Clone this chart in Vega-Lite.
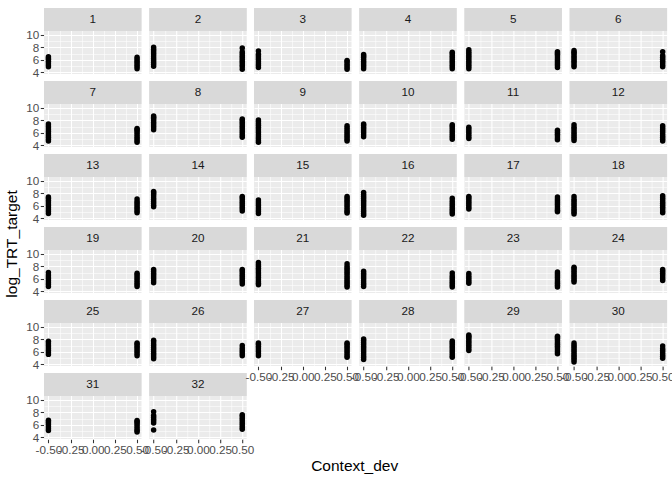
{
  "$schema": "https://vega.github.io/schema/vega-lite/v6.json",
  "padding": {"left": 5, "top": 7, "right": 5, "bottom": 5},
  "title": {"text": "Context_dev", "orient": "bottom", "anchor": "middle", "dx": 15, "fontSize": 15.5, "fontWeight": "normal", "color": "#000000", "font": "Liberation Sans", "offset": 3},
  "config": {
    "font": "Liberation Sans",
    "view": {"fill": "#EBEBEB", "stroke": null},
    "header": {"labels": false, "labelExpr": "''", "labelFontSize": 0.01, "labelPadding": 0},
    "headerFacet": {"labels": false, "labelExpr": "''", "labelFontSize": 0.01, "labelPadding": 0},
    "axis": {
      "domain": false,
      "gridColor": "#FFFFFF",
      "labelColor": "#4D4D4D",
      "labelFontSize": 11.7,
      "labelFont": "Liberation Sans",
      "labelOverlap": false,
      "labelFlush": false,
      "tickColor": "#333333",
      "tickSize": 3.7,
      "tickWidth": 1.07,
      "labelPadding": 1.5
    }
  },
  "data": {
    "values": [
      {"panel": 1, "Context_dev": -0.5, "log_TRT_target": [4.9,5.2,5.5,5.8,6.1,6.3,6.5]},
      {"panel": 1, "Context_dev": 0.5, "log_TRT_target": [4.6,4.9,5.2,5.5,5.8,6.1,6.4]},
      {"panel": 2, "Context_dev": -0.5, "log_TRT_target": [5.0,5.3,5.6,5.9,6.2,6.5,6.8,7.1,7.4,7.7,8.0]},
      {"panel": 2, "Context_dev": 0.5, "log_TRT_target": [4.5,4.9,5.2,5.5,5.8,6.1,6.4,6.7,7.0,7.3,7.9]},
      {"panel": 3, "Context_dev": -0.5, "log_TRT_target": [4.8,5.1,5.4,5.7,6.0,6.3,6.6,6.9,7.4]},
      {"panel": 3, "Context_dev": 0.5, "log_TRT_target": [4.5,4.8,5.1,5.4,5.7,5.9]},
      {"panel": 4, "Context_dev": -0.5, "log_TRT_target": [4.6,4.9,5.2,5.5,5.8,6.1,6.4,6.6,6.85]},
      {"panel": 4, "Context_dev": 0.5, "log_TRT_target": [4.6,4.9,5.2,5.5,5.8,6.1,6.4,6.7,7.0,7.2]},
      {"panel": 5, "Context_dev": -0.5, "log_TRT_target": [4.6,4.9,5.2,5.5,5.8,6.1,6.4,6.7,7.0,7.3,7.6]},
      {"panel": 5, "Context_dev": 0.5, "log_TRT_target": [4.8,5.1,5.4,5.7,6.0,6.3,6.6,6.9,7.1,7.3]},
      {"panel": 6, "Context_dev": -0.5, "log_TRT_target": [4.9,5.2,5.5,5.8,6.1,6.4,6.7,7.0,7.2,7.5]},
      {"panel": 6, "Context_dev": 0.5, "log_TRT_target": [4.9,5.2,5.5,5.8,6.1,6.4,6.7,7.3]},
      {"panel": 7, "Context_dev": -0.5, "log_TRT_target": [4.7,5.0,5.3,5.6,5.9,6.2,6.5,6.8,7.1,7.4]},
      {"panel": 7, "Context_dev": 0.5, "log_TRT_target": [4.5,4.8,5.1,5.4,5.7,6.0,6.3,6.5,6.7]},
      {"panel": 8, "Context_dev": -0.5, "log_TRT_target": [6.5,6.8,7.1,7.4,7.7,8.0,8.3,8.5,8.7]},
      {"panel": 8, "Context_dev": 0.5, "log_TRT_target": [5.3,5.6,5.9,6.2,6.5,6.8,7.1,7.4,7.7,8.0,8.2]},
      {"panel": 9, "Context_dev": -0.5, "log_TRT_target": [4.5,4.8,5.1,5.4,5.7,6.0,6.3,6.6,6.9,7.2,7.5,7.8,8.05]},
      {"panel": 9, "Context_dev": 0.5, "log_TRT_target": [4.7,5.0,5.3,5.6,5.9,6.2,6.5,6.8,7.15]},
      {"panel": 10, "Context_dev": -0.5, "log_TRT_target": [5.4,5.7,6.0,6.3,6.6,6.9,7.2,7.4]},
      {"panel": 10, "Context_dev": 0.5, "log_TRT_target": [5.0,5.3,5.6,5.9,6.2,6.5,6.8,7.1,7.3]},
      {"panel": 11, "Context_dev": -0.5, "log_TRT_target": [5.1,5.4,5.7,6.0,6.3,6.6,6.9]},
      {"panel": 11, "Context_dev": 0.5, "log_TRT_target": [4.9,5.2,5.5,5.8,6.1,6.4]},
      {"panel": 12, "Context_dev": -0.5, "log_TRT_target": [4.8,5.1,5.4,5.7,6.0,6.3,6.6,6.9,7.3]},
      {"panel": 12, "Context_dev": 0.5, "log_TRT_target": [4.7,5.0,5.3,5.6,5.9,6.2,6.5,6.8,7.15]},
      {"panel": 13, "Context_dev": -0.5, "log_TRT_target": [4.8,5.1,5.4,5.7,6.0,6.3,6.6,6.9,7.2,7.4]},
      {"panel": 13, "Context_dev": 0.5, "log_TRT_target": [4.9,5.2,5.5,5.8,6.1,6.4,6.7,7.1]},
      {"panel": 14, "Context_dev": -0.5, "log_TRT_target": [5.85,6.1,6.4,6.7,7.0,7.3,7.6,7.9,8.1,8.3]},
      {"panel": 14, "Context_dev": 0.5, "log_TRT_target": [5.2,5.5,5.8,6.1,6.4,6.7,7.0,7.3,7.5]},
      {"panel": 15, "Context_dev": -0.5, "log_TRT_target": [4.8,5.1,5.4,5.7,6.0,6.3,6.6,6.95]},
      {"panel": 15, "Context_dev": 0.5, "log_TRT_target": [4.85,5.1,5.4,5.7,6.0,6.3,6.6,6.9,7.2,7.5]},
      {"panel": 16, "Context_dev": -0.5, "log_TRT_target": [4.5,4.8,5.1,5.4,5.7,6.0,6.3,6.6,6.9,7.2,7.5,7.8,8.15]},
      {"panel": 16, "Context_dev": 0.5, "log_TRT_target": [4.7,5.0,5.3,5.6,5.9,6.2,6.5,6.8,7.2]},
      {"panel": 17, "Context_dev": -0.5, "log_TRT_target": [5.5,5.8,6.1,6.4,6.7,7.0,7.3,7.5]},
      {"panel": 17, "Context_dev": 0.5, "log_TRT_target": [5.05,5.3,5.6,5.9,6.2,6.5,6.8,7.1,7.4]},
      {"panel": 18, "Context_dev": -0.5, "log_TRT_target": [4.7,5.0,5.3,5.6,5.9,6.2,6.5,6.8,7.1,7.5]},
      {"panel": 18, "Context_dev": 0.5, "log_TRT_target": [4.9,5.2,5.5,5.8,6.1,6.4,6.7,7.0,7.3,7.6]},
      {"panel": 19, "Context_dev": -0.5, "log_TRT_target": [4.8,5.1,5.4,5.7,6.0,6.3,6.6,7.0]},
      {"panel": 19, "Context_dev": 0.5, "log_TRT_target": [4.8,5.1,5.4,5.7,6.0,6.3,6.6,6.9]},
      {"panel": 20, "Context_dev": -0.5, "log_TRT_target": [5.4,5.7,6.0,6.3,6.6,6.9,7.2,7.5]},
      {"panel": 20, "Context_dev": 0.5, "log_TRT_target": [5.2,5.5,5.8,6.1,6.4,6.7,7.0,7.3,7.5]},
      {"panel": 21, "Context_dev": -0.5, "log_TRT_target": [5.05,5.3,5.6,5.9,6.2,6.5,6.8,7.1,7.4,7.7,8.0,8.3,8.6]},
      {"panel": 21, "Context_dev": 0.5, "log_TRT_target": [4.7,5.0,5.3,5.6,5.9,6.2,6.5,6.8,7.1,7.4,7.7,8.0,8.4]},
      {"panel": 22, "Context_dev": -0.5, "log_TRT_target": [4.8,5.1,5.4,5.7,6.0,6.3,6.6,6.9,7.2]},
      {"panel": 22, "Context_dev": 0.5, "log_TRT_target": [4.7,5.0,5.3,5.6,5.9,6.2,6.5,6.95]},
      {"panel": 23, "Context_dev": -0.5, "log_TRT_target": [5.3,5.6,5.9,6.2,6.5,6.85]},
      {"panel": 23, "Context_dev": 0.5, "log_TRT_target": [4.7,5.0,5.3,5.6,5.9,6.2,6.5,6.8,7.1]},
      {"panel": 24, "Context_dev": -0.5, "log_TRT_target": [5.5,5.8,6.1,6.4,6.7,7.0,7.3,7.6,7.85]},
      {"panel": 24, "Context_dev": 0.5, "log_TRT_target": [5.75,6.0,6.3,6.6,6.9,7.2,7.5]},
      {"panel": 25, "Context_dev": -0.5, "log_TRT_target": [5.6,5.9,6.2,6.5,6.8,7.1,7.4,7.7]},
      {"panel": 25, "Context_dev": 0.5, "log_TRT_target": [5.4,5.7,6.0,6.3,6.6,6.9,7.2,7.4]},
      {"panel": 26, "Context_dev": -0.5, "log_TRT_target": [4.9,5.2,5.5,5.8,6.1,6.4,6.7,7.0,7.3,7.6,7.85]},
      {"panel": 26, "Context_dev": 0.5, "log_TRT_target": [5.4,5.7,6.0,6.3,6.6,7.0]},
      {"panel": 27, "Context_dev": -0.5, "log_TRT_target": [5.4,5.7,6.0,6.3,6.6,6.9,7.2,7.4]},
      {"panel": 27, "Context_dev": 0.5, "log_TRT_target": [5.15,5.4,5.7,6.0,6.3,6.6,6.9,7.2,7.4]},
      {"panel": 28, "Context_dev": -0.5, "log_TRT_target": [4.8,5.1,5.4,5.7,6.0,6.3,6.6,6.9,7.2,7.5,7.8,8.05]},
      {"panel": 28, "Context_dev": 0.5, "log_TRT_target": [5.15,5.4,5.7,6.0,6.3,6.6,6.9,7.2,7.5,7.75]},
      {"panel": 29, "Context_dev": -0.5, "log_TRT_target": [6.2,6.5,6.8,7.1,7.4,7.7,8.0,8.3,8.5,8.7]},
      {"panel": 29, "Context_dev": 0.5, "log_TRT_target": [5.7,6.0,6.3,6.6,6.9,7.2,7.5,7.8,8.1,8.3,8.5]},
      {"panel": 30, "Context_dev": -0.5, "log_TRT_target": [4.4,4.7,5.0,5.3,5.6,5.9,6.2,6.5,6.8,7.1,7.4]},
      {"panel": 30, "Context_dev": 0.5, "log_TRT_target": [5.0,5.3,5.6,5.9,6.2,6.5,6.95]},
      {"panel": 31, "Context_dev": -0.5, "log_TRT_target": [5.1,5.4,5.7,6.0,6.3,6.5,6.75]},
      {"panel": 31, "Context_dev": 0.5, "log_TRT_target": [4.85,5.1,5.4,5.7,6.0,6.3,6.5,6.7]},
      {"panel": 32, "Context_dev": -0.5, "log_TRT_target": [5.2,6.3,6.6,6.9,7.2,7.5,8.1]},
      {"panel": 32, "Context_dev": 0.5, "log_TRT_target": [5.3,5.6,5.9,6.2,6.5,6.8,7.1,7.4,7.6]}
    ]
  },
  "transform": [{"flatten": ["log_TRT_target"]}],
  "spacing": -16.5,
  "hconcat": [
    {
      "transform": [{"filter": "(datum.panel - 1) % 6 < 2"}],
      "title": {"text": "log_TRT_target", "orient": "left", "anchor": "middle", "dx": -12, "fontSize": 15.5, "fontWeight": "normal", "color": "#000000", "font": "Liberation Sans", "offset": 5},
      "facet": {"field": "panel", "type": "ordinal", "title": null},
      "columns": 2,
      "spacing": {"row": 6, "column": 7.2},
      "spec": {
        "width": 97.5,
        "height": 66,
        "resolve": {"axis": {"x": "independent", "y": "independent"}},
        "layer": [
          {
            "mark": {"type": "point", "filled": true, "size": 30, "color": "#000000", "opacity": 1},
            "encoding": {
              "x": {
                "field": "Context_dev", "type": "quantitative",
                "scale": {"domain": [-0.55, 0.55], "nice": false, "zero": false},
                "axis": {"orient": "bottom", "title": null, "labelOverlap": false, "values": [-0.5, -0.25, 0, 0.25, 0.5],
                  "labelExpr": "replace(format(datum.value, '.2f'), '\u2212', '-')", "gridWidth": 1.1}
              },
              "y": {
                "field": "log_TRT_target", "type": "quantitative",
                "scale": {"domain": [3.75, 14.26], "nice": false, "zero": false},
                "axis": {"orient": "left", "title": null, "labelOverlap": false, "values": [4, 6, 8, 10], "gridWidth": 1.1}
              }
            }
          },
          {
            "transform": [{"aggregate": [{"op": "count", "as": "n"}], "groupby": ["panel"]}],
            "mark": {"type": "rect", "color": "#D9D9D9"},
            "encoding": {
              "x": {"datum": -0.55, "type": "quantitative",
                "axis": {"orient": "bottom", "title": null, "values": [-0.375, -0.125, 0.125, 0.375], "labels": false, "ticks": false, "domain": false, "grid": true, "gridWidth": 0.55}},
              "x2": {"datum": 0.55},
              "y": {"datum": 10.6, "type": "quantitative",
                "axis": {"orient": "left", "title": null, "values": [5, 7, 9], "labels": false, "ticks": false, "domain": false, "grid": true, "gridWidth": 0.55}},
              "y2": {"datum": 14.26}
            }
          },
          {
            "transform": [{"aggregate": [{"op": "count", "as": "n"}], "groupby": ["panel"]}],
            "mark": {"type": "text", "fontSize": 11.7, "color": "#1A1A1A", "font": "Liberation Sans"},
            "encoding": {
              "x": {"datum": 0, "type": "quantitative", "axis": null},
              "y": {"datum": 12.43, "type": "quantitative", "axis": null},
              "text": {"field": "panel", "type": "nominal"}
            }
          }
        ]
      }
    },
    {
      "transform": [{"filter": "(datum.panel - 1) % 6 >= 2"}],
      "facet": {"field": "panel", "type": "ordinal", "title": null},
      "columns": 4,
      "spacing": {"row": 6, "column": 7.2},
      "spec": {
        "width": 97.5,
        "height": 66,
        "resolve": {"axis": {"x": "independent", "y": "independent"}},
        "layer": [
          {
            "mark": {"type": "point", "filled": true, "size": 30, "color": "#000000", "opacity": 1},
            "encoding": {
              "x": {
                "field": "Context_dev", "type": "quantitative",
                "scale": {"domain": [-0.55, 0.55], "nice": false, "zero": false},
                "axis": {"orient": "bottom", "title": null, "labelOverlap": false, "values": [-0.5, -0.25, 0, 0.25, 0.5],
                  "labelExpr": "replace(format(datum.value, '.2f'), '\u2212', '-')", "gridWidth": 1.1}
              },
              "y": {
                "field": "log_TRT_target", "type": "quantitative",
                "scale": {"domain": [3.75, 14.26], "nice": false, "zero": false},
                "axis": {"orient": "left", "title": null, "labels": false, "ticks": false, "values": [4, 6, 8, 10], "gridWidth": 1.1}
              }
            }
          },
          {
            "transform": [{"aggregate": [{"op": "count", "as": "n"}], "groupby": ["panel"]}],
            "mark": {"type": "rect", "color": "#D9D9D9"},
            "encoding": {
              "x": {"datum": -0.55, "type": "quantitative",
                "axis": {"orient": "bottom", "title": null, "values": [-0.375, -0.125, 0.125, 0.375], "labels": false, "ticks": false, "domain": false, "grid": true, "gridWidth": 0.55}},
              "x2": {"datum": 0.55},
              "y": {"datum": 10.6, "type": "quantitative",
                "axis": {"orient": "left", "title": null, "values": [5, 7, 9], "labels": false, "ticks": false, "domain": false, "grid": true, "gridWidth": 0.55}},
              "y2": {"datum": 14.26}
            }
          },
          {
            "transform": [{"aggregate": [{"op": "count", "as": "n"}], "groupby": ["panel"]}],
            "mark": {"type": "text", "fontSize": 11.7, "color": "#1A1A1A", "font": "Liberation Sans"},
            "encoding": {
              "x": {"datum": 0, "type": "quantitative", "axis": null},
              "y": {"datum": 12.43, "type": "quantitative", "axis": null},
              "text": {"field": "panel", "type": "nominal"}
            }
          }
        ]
      }
    }
  ]
}
